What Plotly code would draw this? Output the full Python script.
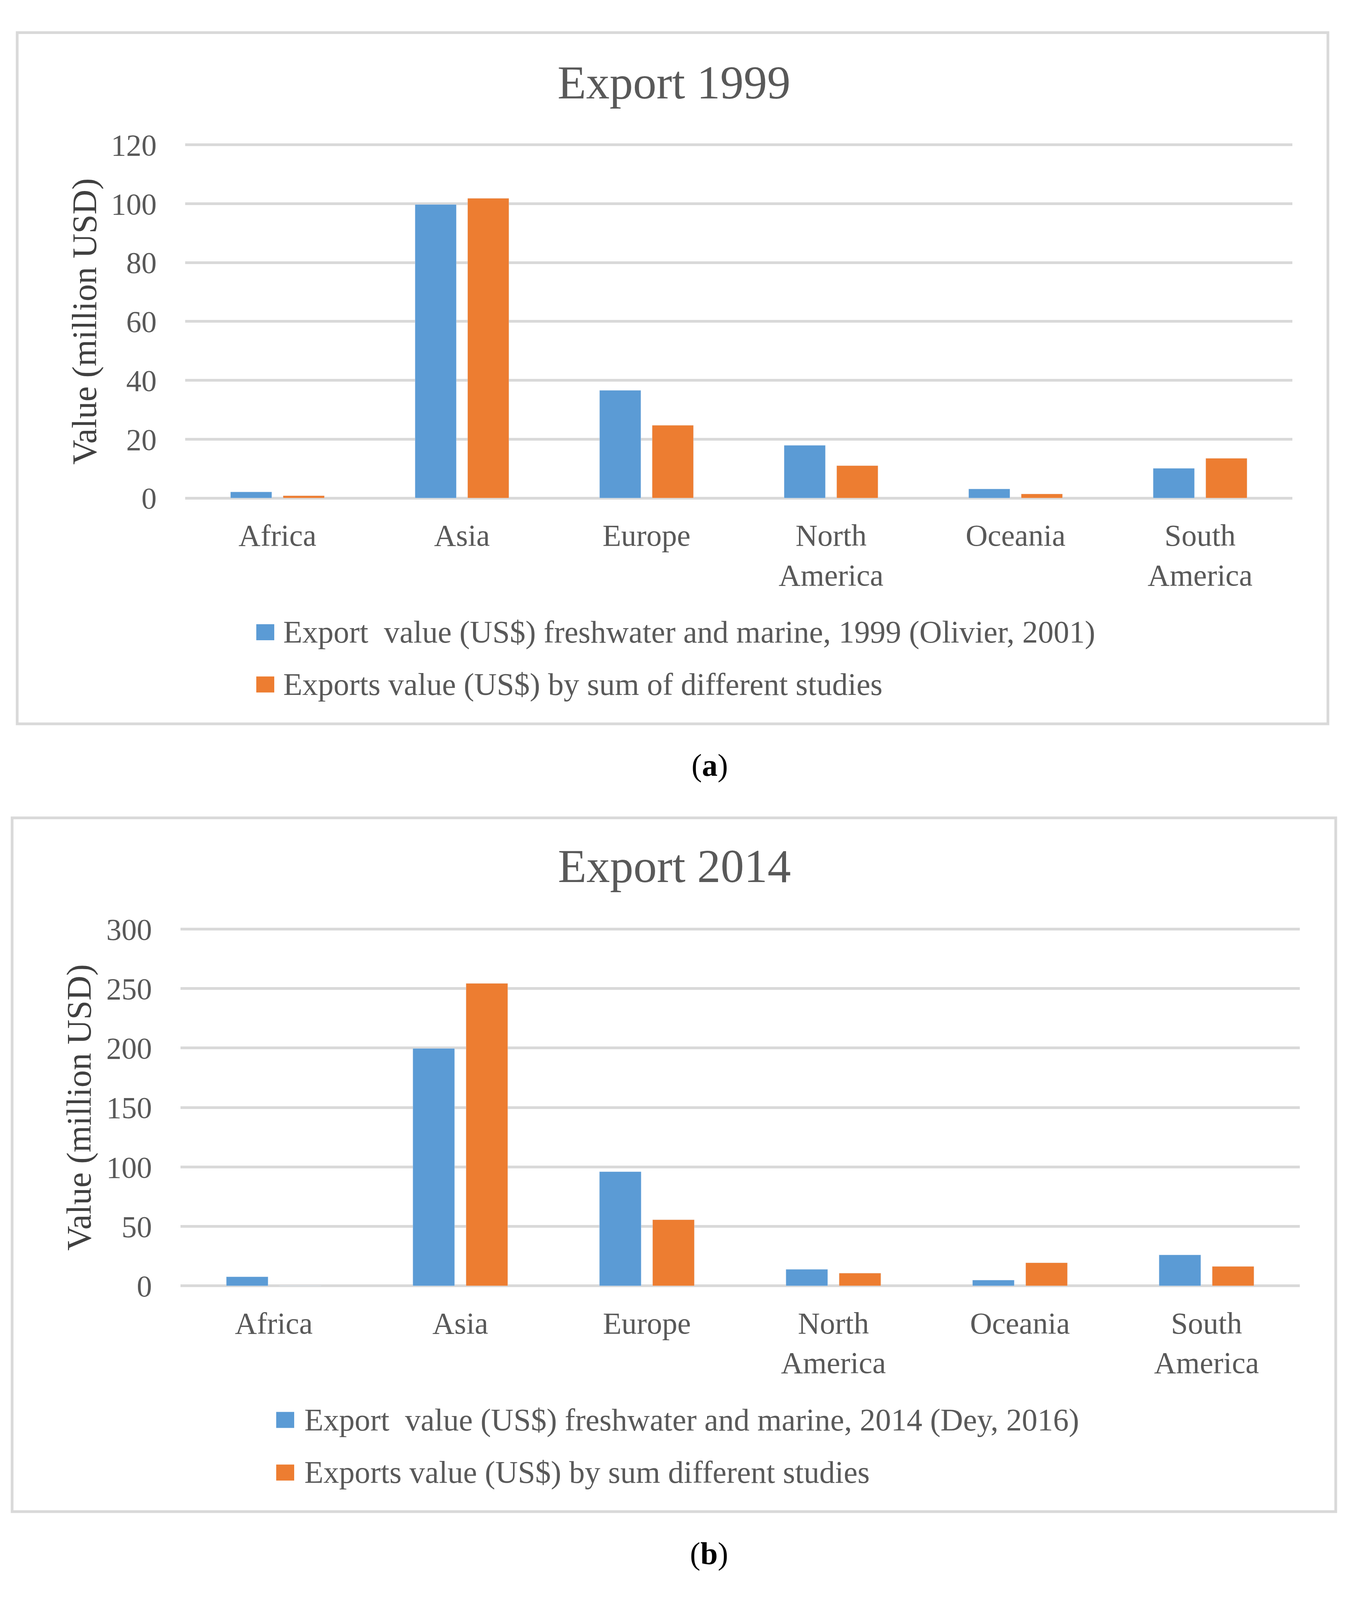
import plotly.graph_objects as go

W, H = 3476, 4507
# the browser window only shows 4096 px of height, so the page is laid out to that
FIG_H = 4096

regions = ["Africa", "Asia", "Europe", "North<br>America", "Oceania", "South<br>America"]

# panel (a) 1999
olivier_1999 = [2.1, 99.7, 36.6, 17.9, 3.1, 10.1]
studies_1999 = [0.8, 101.8, 24.7, 11.0, 1.4, 13.5]
names_1999 = ["Export  value (US$) freshwater and marine, 1999 (Olivier, 2001)",
              "Exports value (US$) by sum of different studies"]

# panel (b) 2014
dey_2014 = [7.6, 199.6, 96.0, 13.9, 4.8, 26.0]
studies_2014 = [0.0, 254.3, 55.6, 10.7, 19.4, 16.3]
names_2014 = ["Export  value (US$) freshwater and marine, 2014 (Dey, 2016)",
              "Exports value (US$) by sum different studies"]

y_ticks_a = [0, 20, 40, 60, 80, 100, 120]
y_ticks_b = [0, 50, 100, 150, 200, 250, 300]

BLUE = "#5B9BD5"
ORANGE = "#ED7D31"
GRID = "#D9D9D9"
TXT = "#595959"
FONT = "Liberation Serif"


def px(x):
    return x / W


def py(y):
    return 1 - y / H


fig = go.Figure()
fig.add_trace(go.Bar(x=regions, y=olivier_1999, name=names_1999[0], marker_color=BLUE,
                     xaxis="x", yaxis="y", showlegend=False))
fig.add_trace(go.Bar(x=regions, y=studies_1999, name=names_1999[1], marker_color=ORANGE,
                     xaxis="x", yaxis="y", showlegend=False))
fig.add_trace(go.Bar(x=regions, y=dey_2014, name=names_2014[0], marker_color=BLUE,
                     xaxis="x2", yaxis="y2", showlegend=False))
fig.add_trace(go.Bar(x=regions, y=studies_2014, name=names_2014[1], marker_color=ORANGE,
                     xaxis="x2", yaxis="y2", showlegend=False))

tick_font = dict(family=FONT, size=78, color=TXT)
title_font = dict(family=FONT, size=88, color="#404040")

xcommon = dict(type="category", showgrid=False, zeroline=False, showline=False, ticks="",
               tickfont=tick_font, ticklabelstandoff=38)
ycommon = dict(showgrid=True, gridcolor=GRID, gridwidth=7, zeroline=False, showline=False,
               ticks="", tickfont=tick_font, ticklabelstandoff=72)

# a little headroom so the top and bottom grid lines get drawn
pad_a = 120 * 6 / (1388 - 374)
pad_b = 300 * 6 / (3649 - 2625)

fig.update_layout(
    width=W, height=FIG_H,
    margin=dict(l=0, r=0, t=0, b=0),
    paper_bgcolor="white", plot_bgcolor="white",
    barmode="group", bargap=0.43, bargroupgap=0.215,
    font=dict(family=FONT, color=TXT),
    xaxis=dict(xcommon, domain=[px(474), px(3308)], anchor="y"),
    yaxis=dict(ycommon, domain=[py(1394), py(368)], anchor="x", range=[-pad_a, 120 + pad_a],
               tickvals=y_ticks_a,
               title=dict(text="Value (million USD)", font=title_font, standoff=8)),
    xaxis2=dict(xcommon, domain=[px(462), px(3327)], anchor="y2"),
    yaxis2=dict(ycommon, domain=[py(3655), py(2619)], anchor="x2", range=[-pad_b, 300 + pad_b],
                tickvals=y_ticks_b,
                title=dict(text="Value (million USD)", font=title_font, standoff=10)),
)

shapes = []
# panel borders
for x0, x1, y0, y1 in [(44, 3399, 52, 2036), (31, 3419, 2306, 4297)]:
    shapes.append(dict(type="rect", xref="paper", yref="paper",
                       x0=px(x0), x1=px(x1), y0=py(y0), y1=py(y1),
                       line=dict(color=GRID, width=7), fillcolor="rgba(0,0,0,0)", layer="below"))

annotations = []
# chart titles
annotations.append(dict(text="Export 1999", x=px(1725), y=py(196), xref="paper", yref="paper",
                        xanchor="center", yanchor="middle", showarrow=False,
                        font=dict(family=FONT, size=120, color=TXT)))
annotations.append(dict(text="Export 2014", x=px(1726), y=py(2445), xref="paper", yref="paper",
                        xanchor="center", yanchor="middle", showarrow=False,
                        font=dict(family=FONT, size=120, color=TXT)))

# legends (drawn by hand so the swatches match the original size)
legend_rows = [
    (names_1999[0], BLUE, 656, 723, 1773),
    (names_1999[1], ORANGE, 656, 723, 1923),
    (names_2014[0], BLUE, 707, 777, 4034),
    (names_2014[1], ORANGE, 707, 777, 4185),
]
for label, col, sx, tx, cy in legend_rows:
    shapes.append(dict(type="rect", xref="paper", yref="paper",
                       x0=px(sx), x1=px(sx + 46), y0=py(cy - 23), y1=py(cy + 23),
                       line=dict(width=0), fillcolor=col))
    annotations.append(dict(text=label, x=px(tx), y=py(cy), xref="paper", yref="paper",
                            xanchor="left", yanchor="middle", showarrow=False,
                            font=dict(family=FONT, size=80, color=TXT)))

# captions
annotations.append(dict(text="(<b>a</b>)", x=px(1816), y=py(2155), xref="paper", yref="paper",
                        xanchor="center", yanchor="middle", showarrow=False,
                        font=dict(family=FONT, size=80, color="black")))
annotations.append(dict(text="(<b>b</b>)", x=px(1815), y=py(4418), xref="paper", yref="paper",
                        xanchor="center", yanchor="middle", showarrow=False,
                        font=dict(family=FONT, size=80, color="black")))

fig.update_layout(shapes=shapes, annotations=annotations)

# drop the body margin and fit the figure to the visible window
fit = """
var gd = document.getElementById('{plot_id}');
document.body.style.margin = '0';
document.body.style.overflow = 'hidden';
Plotly.relayout(gd, {width: window.innerWidth, height: window.innerHeight});
"""

fig.write_html("out.html", post_script=fit, config={"displayModeBar": False})
